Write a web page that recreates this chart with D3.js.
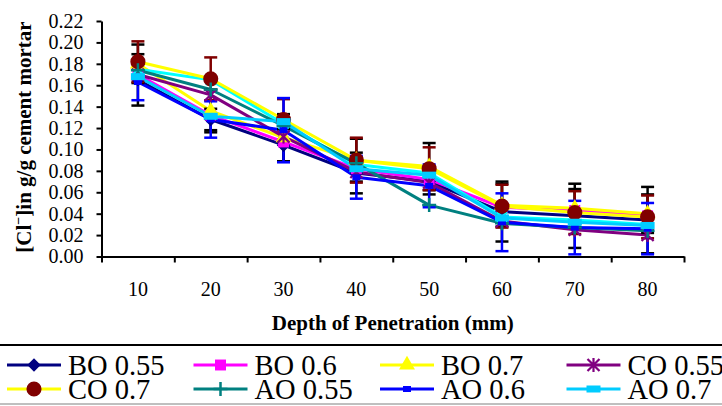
<!DOCTYPE html>
<html>
<head>
<meta charset="utf-8">
<script src="https://cdn.jsdelivr.net/npm/d3@7"></script>
<style>
  body { margin: 0; background: #fff; }
  svg { display: block; }
  svg text { font-family: "Liberation Serif", "DejaVu Serif", "Noto Serif", serif !important; }
  .axis path, .axis line { stroke: #000; stroke-width: 2; }
  .axis text { font-size: 20px; fill: #000; }
  .axisTitle { font-size: 21px; font-weight: bold; fill: #000; }
  .legendText { font-size: 28.5px; fill: #000; }
</style>
</head>
<body>
<div id="chart"></div>
<script>
// data
var depths = [10, 20, 30, 40, 50, 60, 70, 80];
var yTicks = [0, 0.02, 0.04, 0.06, 0.08, 0.10, 0.12, 0.14, 0.16, 0.18, 0.20, 0.22];

var seriesNames = ["BO 0.55", "BO 0.6", "BO 0.7", "CO 0.55", "CO 0.6", "CO 0.7", "AO 0.55", "AO 0.6", "AO 0.7"];

var bo055 = [0.165, 0.128, 0.104, 0.078, 0.070, 0.042, 0.038, 0.034];
var bo06  = [0.170, 0.132, 0.107, 0.082, 0.072, 0.046, 0.043, 0.038];
var bo07  = [0.180, 0.136, 0.111, 0.090, 0.084, 0.048, 0.045, 0.040];
var co055 = [0.170, 0.151, 0.112, 0.079, 0.069, 0.033, 0.025, 0.020];
var co06  = [0.175, 0.165, 0.124, 0.086, 0.078, 0.037, 0.034, 0.030];
var co07  = [0.182, 0.166, 0.128, 0.090, 0.082, 0.047, 0.041, 0.037];
var ao055 = [0.174, 0.156, 0.122, 0.087, 0.048, 0.031, 0.027, 0.024];
var ao06  = [0.163, 0.128, 0.118, 0.074, 0.066, 0.032, 0.027, 0.026];
var ao07  = [0.168, 0.131, 0.126, 0.082, 0.076, 0.036, 0.032, 0.029];

// error bar half-widths (only series whose bars can be seen)
var errBo055 = [0.024, 0.010, 0.015, 0.019, 0.012, 0.028, 0.030, 0.031];
var errBo07  = [0.018, 0.020, 0.022, 0.020, 0.022, 0.020, 0.018, 0.018];
var errCo07  = [0.019, 0.020, 0.019, 0.021, 0.020, 0.020, 0.020, 0.020];
var errAo06  = [0.017, 0.017, 0.030, 0.020, 0.020, 0.027, 0.025, 0.024];

var seriesValues = [bo055, bo06, bo07, co055, co06, co07, ao055, ao06, ao07];
var seriesErrors = [errBo055, null, errBo07, null, null, errCo07, null, errAo06, null];

// styles
var lineColors = ["#000080", "#FF00FF", "#FFFF00", "#800080", "#00FFFF", "#FFFF00", "#008080", "#0000FF", "#00CCFF"];
var markerColors = ["#000080", "#FF00FF", "#FFFF00", "#800080", "#00FFFF", "#800000", "#008080", "#0000FF", "#00CCFF"];
var markerTypes = ["diamond", "square", "triangle", "asterisk", "x", "circle", "plus", "smalldash", "dash"];
var errColors = ["#000", null, "#000", null, null, "#800000", null, "#0000FF", null];

var width = 722, height = 406;
var plot = {left: 101.5, right: 684, top: 21, bottom: 256.5};

var svg = d3.select("#chart").append("svg")
  .attr("width", width)
  .attr("height", height);

var x = d3.scaleBand()
  .domain(depths)
  .range([plot.left, plot.right]);

var xEdge = d3.scaleLinear()
  .domain([0, depths.length])
  .range([plot.left, plot.right]);

var y = d3.scaleLinear()
  .domain([0, 0.22])
  .range([plot.bottom, plot.top]);

function cx(d) { return x(d) + x.bandwidth() / 2; }

// y axis
svg.append("g")
  .attr("class", "axis")
  .attr("transform", "translate(" + plot.left + ",0)")
  .call(d3.axisLeft(y).tickValues(yTicks).tickFormat(d3.format(".2f")).tickSize(5).tickSizeOuter(0).tickPadding(13));

// x axis: ticks between categories
svg.append("g")
  .attr("class", "axis")
  .attr("transform", "translate(0," + plot.bottom + ")")
  .call(d3.axisBottom(xEdge).tickValues(d3.range(depths.length + 1)).tickFormat("").tickSize(6).tickSizeOuter(0));

// x labels at category centres
var xl = svg.append("g")
  .attr("class", "axis")
  .attr("transform", "translate(0," + plot.bottom + ")")
  .call(d3.axisBottom(x).tickSize(0).tickPadding(25));
xl.select(".domain").remove();

// axis titles
svg.append("text")
  .attr("class", "axisTitle")
  .attr("x", (plot.left + plot.right) / 2)
  .attr("y", 330)
  .attr("text-anchor", "middle")
  .text("Depth of Penetration (mm)");

var yt = svg.append("text")
  .attr("class", "axisTitle")
  .attr("transform", "translate(31," + 137 + ") rotate(-90)")
  .attr("text-anchor", "middle");
yt.append("tspan").text("[Cl");
yt.append("tspan").attr("dy", -8).attr("font-size", "14px").text("\u2212");
yt.append("tspan").attr("dy", 8).text("]in g/g cement mortar");

// marker drawing
function drawMarker(g, type, color) {
  if (type === "diamond") {
    g.append("path").attr("d", d3.symbol(d3.symbolSquare, 72)()).attr("transform", "rotate(45)")
      .attr("fill", color).attr("stroke", color).attr("stroke-width", 1);
  } else if (type === "square") {
    g.append("path").attr("d", d3.symbol(d3.symbolSquare, 120)()).attr("fill", color);
  } else if (type === "triangle") {
    g.append("path").attr("d", d3.symbol(d3.symbolTriangle, 110)()).attr("fill", color);
  } else if (type === "circle") {
    g.append("path").attr("d", d3.symbol(d3.symbolCircle, 180)()).attr("fill", color);
  } else if (type === "asterisk") {
    g.append("path").attr("d", "M-6,-6L6,6M-6,6L6,-6M0,-7V7")
      .attr("stroke", color).attr("stroke-width", 2.2).attr("fill", "none");
  } else if (type === "x") {
    g.append("path").attr("d", "M-5,-5L5,5M-5,5L5,-5")
      .attr("stroke", color).attr("stroke-width", 2.2).attr("fill", "none");
  } else if (type === "plus") {
    g.append("path").attr("d", "M-7,0H7M0,-7V7")
      .attr("stroke", color).attr("stroke-width", 2.5).attr("fill", "none");
  } else if (type === "smalldash") {
    g.append("rect").attr("x", -4).attr("y", -3).attr("width", 8).attr("height", 6).attr("fill", color);
  } else if (type === "dash") {
    g.append("rect").attr("x", -7).attr("y", -3.5).attr("width", 14).attr("height", 7).attr("fill", color);
  }
}

var series = seriesNames.map(function(name, i) {
  return {
    name: name,
    index: i,
    points: depths.map(function(dp, j) {
      return {depth: dp, v: seriesValues[i][j], err: seriesErrors[i] ? seriesErrors[i][j] : null};
    })
  };
});

var line = d3.line()
  .x(function(d) { return cx(d.depth); })
  .y(function(d) { return y(d.v); });

// lines
svg.append("g").selectAll("path")
  .data(series)
  .enter()
  .append("path")
  .attr("d", function(s) { return line(s.points); })
  .attr("fill", "none")
  .attr("stroke", function(s) { return lineColors[s.index]; })
  .attr("stroke-width", 3)
  .attr("stroke-linejoin", "round");

// error bars
var errG = svg.append("g");
series.forEach(function(s) {
  if (!seriesErrors[s.index]) return;
  var col = errColors[s.index];
  s.points.forEach(function(d) {
    var px = cx(d.depth);
    var y1 = y(d.v + d.err), y0 = y(d.v - d.err);
    errG.append("line").attr("x1", px).attr("x2", px).attr("y1", y1).attr("y2", y0)
      .attr("stroke", col).attr("stroke-width", 2.5);
    [y1, y0].forEach(function(yy) {
      errG.append("line").attr("x1", px - 6.5).attr("x2", px + 6.5).attr("y1", yy).attr("y2", yy)
        .attr("stroke", col).attr("stroke-width", 2.5);
    });
  });
});

// markers
var markG = svg.append("g");
series.forEach(function(s) {
  s.points.forEach(function(d) {
    var g = markG.append("g").attr("transform", "translate(" + cx(d.depth) + "," + y(d.v) + ")");
    drawMarker(g, markerTypes[s.index], markerColors[s.index]);
  });
});

// legend
var legend = svg.append("g");
legend.append("line").attr("x1", 0).attr("x2", width).attr("y1", 345).attr("y2", 345)
  .attr("stroke", "#000").attr("stroke-width", 2);
legend.append("line").attr("x1", 0).attr("x2", width).attr("y1", 404).attr("y2", 404)
  .attr("stroke", "#aaa").attr("stroke-width", 1.5);

var legendCols = 5, colStep = 186.5, rowY = [365, 389];
series.forEach(function(s, i) {
  var col = i % legendCols, row = Math.floor(i / legendCols);
  var x0 = 7 + col * colStep, yy = rowY[row];
  var item = legend.append("g").attr("transform", "translate(" + x0 + "," + yy + ")");
  item.append("line").attr("x1", 0).attr("x2", 54).attr("y1", 0).attr("y2", 0)
    .attr("stroke", lineColors[i]).attr("stroke-width", 3);
  drawMarker(item.append("g").attr("transform", "translate(27,0)"), markerTypes[i], markerColors[i]);
  item.append("text").attr("class", "legendText").attr("x", 61).attr("y", 10).text(s.name);
});
</script>
</body>
</html>
